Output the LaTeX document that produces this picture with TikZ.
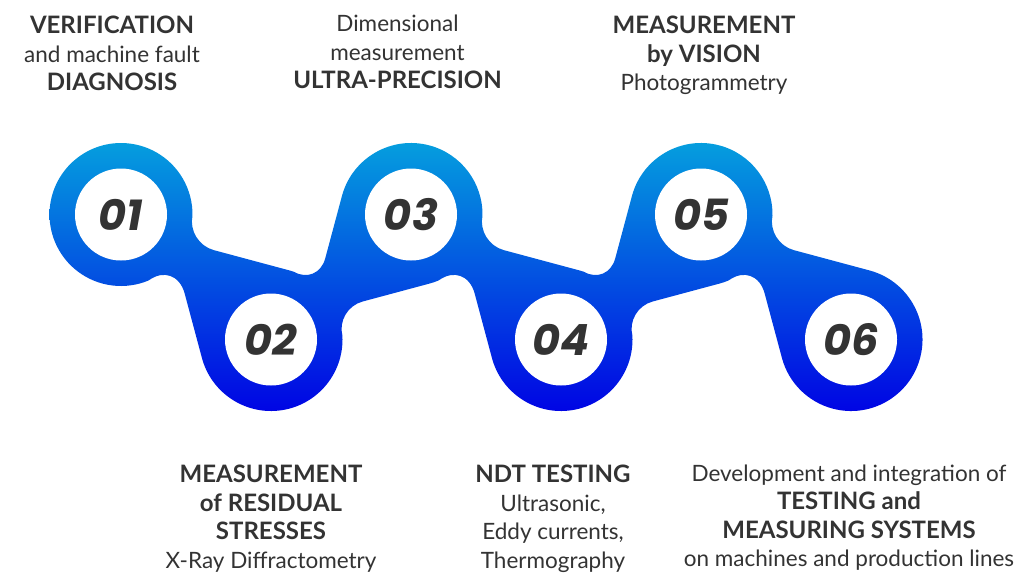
\documentclass[tikz,border=0pt]{standalone}
\usepackage{fontspec}
\setmainfont{Lato}
\newfontfamily\numfont{Poppins}
\usetikzlibrary{calc,positioning}
\definecolor{bandtop}{RGB}{5,162,222}
\definecolor{bandbot}{RGB}{0,0,228}
\definecolor{txtgrey}{RGB}{51,51,51}
\tikzset{hole/.style={circle,fill=white,minimum size=92pt,inner sep=0pt,text=txtgrey,font=\numfont\bfseries\itshape\fontsize{43}{43}\selectfont},
infotxt/.style={align=center,inner sep=0pt,text=txtgrey,font=\fontsize{22.5}{28.5}\selectfont}}
% fillet from #1 round the corner #2 to #3
\newcommand\filet[3]{.. controls ($(#1)!.55!(#2)$) and ($(#3)!.55!(#2)$) .. (#3)}
% bold words
\newcommand\bt[1]{{\fontsize{24}{28.5}\selectfont\bfseries #1}}

\begin{document}
\begin{tikzpicture}[x=1pt,y=-1pt]
\def\R{71.5}
\useasboundingbox (0,0) rectangle (1014,574);

% Circle centres
\foreach \i/\x/\y in {1/121/214.5,2/271/339.5,3/411/214.5,4/561/339.5,5/701/214.5,6/851/339.5}
  \coordinate (c\i) at (\x,\y);

% Corner points, links going down
\foreach \i in {1,3,5} {
  \coordinate (ua\i) at ($(c\i)+(0.9:\R)$);
  \coordinate (uk\i) at ($(c\i)+(23.3:\R)$);
  \coordinate (ub\i) at ($(c\i)+(92.7,35.6)$);
  \coordinate (la\i) at ($(c\i)+(63.6,78.8)$);
  \coordinate (lk\i) at ($(c\i)+(40:\R)$);
  \coordinate (lb\i) at ($(c\i)+(67.2:\R)$);
}
% Corner points, links going up
\foreach \j in {2,4} {
  \coordinate (va\j) at ($(c\j)+(288.6:\R)$);
  \coordinate (vk\j) at ($(c\j)+(311:\R)$);
  \coordinate (vb\j) at ($(c\j)+(54.2,-81)$);
  \coordinate (wa\j) at ($(c\j)+(91.5,-37.95)$);
  \coordinate (wk\j) at ($(c\j)+(334.6:\R)$);
  \coordinate (wb\j) at ($(c\j)+(357:\R)$);
}

% Band
\shade[top color=bandtop,bottom color=bandbot]
  ($(c1)+(180:\R)$) arc[start angle=180,end angle=360.9,radius=\R]
  \filet{ua1}{uk1}{ub1} -- ($(c2)+(285:\R)$) arc[start angle=285,end angle=288.6,radius=\R]
  \filet{va2}{vk2}{vb2} -- ($(c3)+(195:\R)$) arc[start angle=195,end angle=360.9,radius=\R]
  \filet{ua3}{uk3}{ub3} -- ($(c4)+(285:\R)$) arc[start angle=285,end angle=288.6,radius=\R]
  \filet{va4}{vk4}{vb4} -- ($(c5)+(195:\R)$) arc[start angle=195,end angle=360.9,radius=\R]
  \filet{ua5}{uk5}{ub5} -- ($(c6)+(285:\R)$) arc[start angle=285,end angle=525,radius=\R]
  -- (la5) \filet{la5}{lk5}{lb5} arc[start angle=67.2,end angle=75,radius=\R]
  -- (wa4) \filet{wa4}{wk4}{wb4} arc[start angle=357,end angle=525,radius=\R]
  -- (la3) \filet{la3}{lk3}{lb3} arc[start angle=67.2,end angle=75,radius=\R]
  -- (wa2) \filet{wa2}{wk2}{wb2} arc[start angle=357,end angle=525,radius=\R]
  -- (la1) \filet{la1}{lk1}{lb1} arc[start angle=67.2,end angle=180,radius=\R]
  -- cycle;

% Numbered holes
\foreach \i in {1,...,6} \node[hole] (n\i) at (c\i) {0\i};

% Texts above
\node[infotxt,anchor=north] (t1) at ($(c1)+(-9,-198.5)$) {\bt{VERIFICATION}\\and machine fault\\\bt{DIAGNOSIS}};
\node[infotxt,anchor=north] (t3) at ($(c3)+(-13.5,-199.5)$) {Dimensional\\measurement\\\bt{ULTRA-PRECISION}};
\node[infotxt,anchor=north] (t5) at ($(c5)+(3,-198.5)$) {\bt{MEASUREMENT}\\\bt{by VISION}\\Photogrammetry};

% Texts below
\node[infotxt,anchor=north] (t2) at ($(c2)+(0,125.5)$) {\bt{MEASUREMENT}\\\bt{of RESIDUAL}\\\bt{STRESSES}\\X-Ray Diffractometry};
\node[infotxt,anchor=north] (t4) at ($(c4)+(-8,125.5)$) {\bt{NDT TESTING}\\Ultrasonic,\\Eddy currents,\\Thermography};
\node[infotxt,anchor=north] (t6) at ($(c6)+(-2,125)$) {Development and integration of\\\bt{TESTING and}\\\bt{MEASURING SYSTEMS}\\on machines and production lines};

\end{tikzpicture}
\end{document}
